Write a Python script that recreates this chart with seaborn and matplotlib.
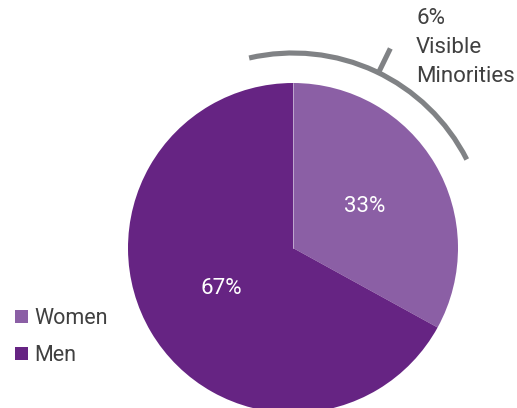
import numpy as np
import matplotlib
matplotlib.use("Agg")
import matplotlib.pyplot as plt
from matplotlib.patches import Arc, Patch
import seaborn as sns

categories = ["Women", "Men"]
values = [33, 67]
labels = ["33%", "67%"]
colors = ["#8B5FA5", "#662483"]
arc_label = "6%\nVisible\nMinorities"

sns.set_theme(style="white")
plt.rcParams['font.family'] = ['Roboto', 'DejaVu Sans']

W, H = 517, 408
fig = plt.figure(figsize=(W / 100, H / 100), dpi=100)
ax = fig.add_axes([0, 0, 1, 1])

cx, cy, r = 293, H - 248, 165
wedges, _ = ax.pie(values, colors=colors, startangle=90, counterclock=False,
                   center=(cx, cy), radius=r, frame=True,
                   wedgeprops=dict(linewidth=0))
ax.set_xlim(0, W)
ax.set_ylim(0, H)
ax.set_aspect("equal")
ax.axis("off")
# thin light separator along the vertical boundary
ax.plot([cx, cx], [cy, cy + r], color="#c9b3d6", linewidth=0.6)

# percent labels
ax.text(365, H - 206, labels[0], color="white", fontsize=16, ha="center", va="center")
ax.text(221, H - 289, labels[1], color="white", fontsize=16, ha="center", va="center")

# grey arc
ra = 195
ax.add_patch(Arc((cx, cy), 2 * ra, 2 * ra, theta1=27, theta2=103,
                 color="#808285", linewidth=3.7, capstyle="butt"))
ang = np.deg2rad(64)
ax.plot([cx + ra * np.cos(ang), cx + 222 * np.cos(ang)],
        [cy + ra * np.sin(ang), cy + 222 * np.sin(ang)],
        color="#808285", linewidth=3.7, solid_capstyle="butt")
ax.text(416, H - 8, arc_label, color="#404040", fontsize=16, ha="left", va="top",
        linespacing=1.5)

# legend
handles = [Patch(facecolor=c, edgecolor="none") for c in colors]
leg = fig.legend(handles, categories, loc="upper left", bbox_to_anchor=(0.0, 1 - 293 / H),
                 frameon=False, fontsize=15.5, handlelength=0.6, handleheight=0.6,
                 handletextpad=0.3, labelspacing=0.75, borderaxespad=0.3)
for t in leg.get_texts():
    t.set_color("#404040")

fig.savefig("out.png", dpi=100)
